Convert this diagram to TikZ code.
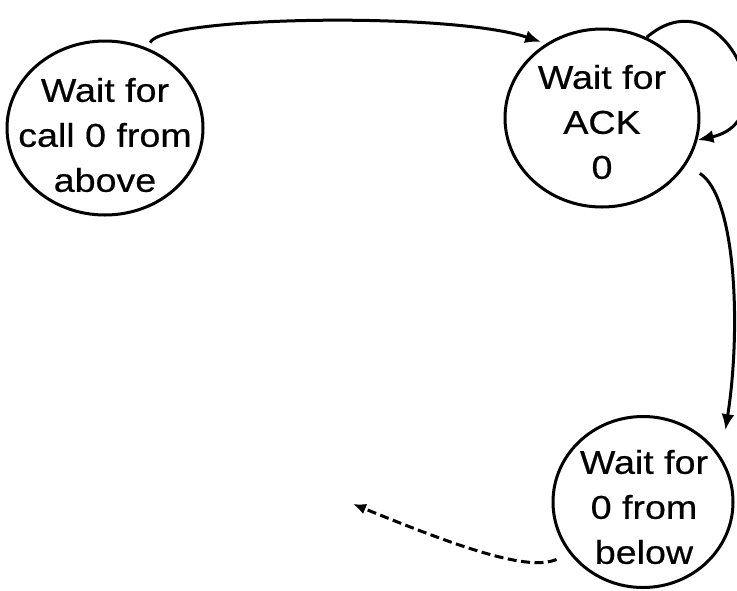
\documentclass[tikz,border=0pt]{standalone}
\usepackage{fontspec}
\newfontfamily\statefont[FakeStretch=1.14,FakeBold=0.5]{Liberation Sans}
\usetikzlibrary{shapes.geometric,arrows.meta}

\tikzset{
  stateshape/.style={ellipse, draw=black, line width=3pt, inner sep=0pt},
  statetext/.style={align=center, inner sep=0pt, text=black,
    font=\statefont\fontsize{33}{45}\selectfont},
  trans/.style={line width=3pt, -{Latex[length=16pt,width=13pt]}},
  backtrans/.style={trans, dashed, dash pattern=on 9pt off 4.5pt,
    -{Latex[length=13pt,width=11pt]}}
}

\begin{document}
\begin{tikzpicture}[x=1pt,y=-1pt]
  \fill[white] (0,0) rectangle (737,590);
  \useasboundingbox (0,0) rectangle (737,590);

  % states
  \node[stateshape, minimum width=196pt, minimum height=174pt] (A) at (105,128) {};
  \node[statetext] (At) at (105,135) {Wait for\\call 0 from\\above};

  \node[stateshape, minimum width=194pt, minimum height=178pt] (B) at (602,118) {};
  \node[statetext] (Bt) at (602,122) {Wait for\\ACK\\0};

  \node[stateshape, minimum width=180pt, minimum height=171pt] (C) at (643,502) {};
  \node[statetext] (Ct) at (644,507) {Wait for\\0 from\\below};

  \coordinate (back) at (353,504);

  % transitions
  \draw[trans, shorten <=6pt, shorten >=5pt]
    (A.62) .. controls +(15,-32) and +(-95,-32) .. (B.127);
  \draw[trans]
    (B.61) .. controls +(74,-64) and +(92,-20) .. (B.-13);
  \draw[trans, shorten <=16pt, shorten >=27pt]
    (B.-29) .. controls +(50,32) and +(20,-127) .. (C.30);
  \draw[backtrans, shorten <=14pt]
    (C.215) .. controls +(-40,18) and +(110,45) .. (back);
\end{tikzpicture}
\end{document}
